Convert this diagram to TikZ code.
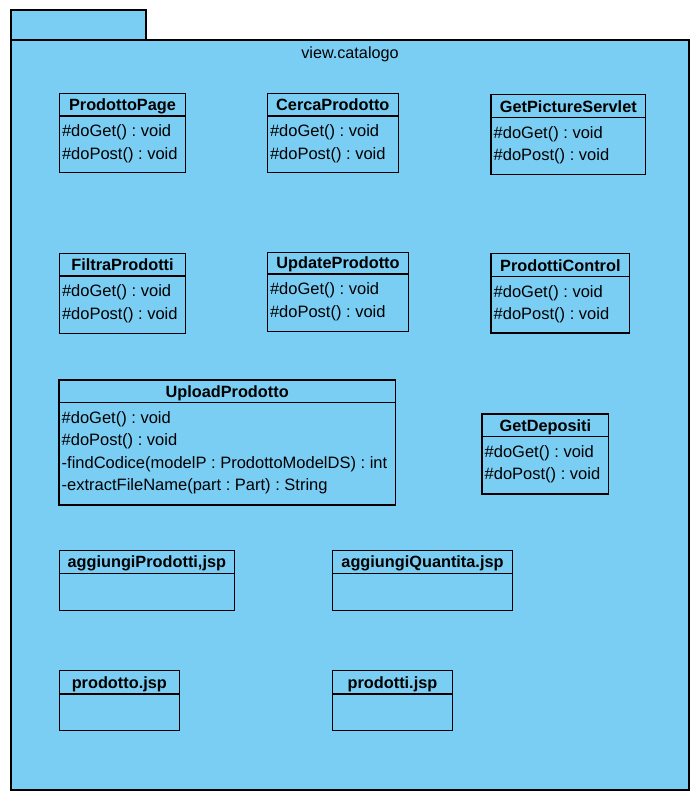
\documentclass[tikz,border=0pt]{standalone}
\usepackage{fontspec}
\setmainfont{Liberation Sans}
\frenchspacing
\definecolor{pkgblue}{RGB}{122,206,244}
\tikzset{
  pkgshape/.style={draw=black, fill=pkgblue, line width=1.1pt, inner sep=0pt, outer sep=0pt, anchor=north west},
  clsbox/.style={draw=black, fill=pkgblue, line width=1.1pt, inner sep=0pt, outer sep=0pt, anchor=north west},
  titletext/.style={inner sep=0pt, anchor=base, font=\fontsize{16.3}{19}\selectfont\bfseries},
  optext/.style={inner sep=0pt, anchor=base west, font=\fontsize{16.5}{19}\selectfont},
  pkglabel/.style={inner sep=0pt, anchor=base, font=\fontsize{16.2}{19}\selectfont},
}
% name, left, top, right, separator, bottom, title
\newcommand\umlcls[7]{%
  \node[clsbox, minimum width={(#4-#2)*1pt}, minimum height={(#5-#3)*1pt}] (#1) at (#2,#3) {};
  \node[clsbox, minimum width={(#4-#2)*1pt}, minimum height={(#6-#5)*1pt}] (#1-body) at (#2,#5) {};
  \node[titletext] (#1-title) at ({(#2+#4)/2},#5-5.5) {#7};
}
% name, left, separator, list of operations
\newcommand\umlops[4]{%
  \foreach \op [count=\i] in {#4} {
    \node[optext] (#1-op\i) at (#2+2.5,#3+20.5+22.5*\i-22.5) {\frenchspacing\op};
  }
}
\begin{document}
\begin{tikzpicture}[x=1pt,y=-1pt]
\useasboundingbox (0,0) rectangle (699,807);
% package
\node[pkgshape, minimum width=135pt, minimum height=30pt] (tab) at (11,10) {};
\node[pkgshape, minimum width=678pt, minimum height=750pt] (pkg) at (11,40) {};
\node[pkglabel] (pkgname) at (350,58.3) {view.catalogo};

% row 1
\umlcls{pp}{59.3}{93.3}{185.7}{116}{172.3}{ProdottoPage}
\umlops{pp}{59.3}{116}{{\#doGet() : void},{\#doPost() : void}}
\umlcls{cp}{267.3}{93.3}{398.3}{116}{172.3}{CercaProdotto}
\umlops{cp}{267.3}{116}{{\#doGet() : void},{\#doPost() : void}}
\umlcls{gps}{491}{94.3}{645.7}{117.7}{174.3}{GetPictureServlet}
\umlops{gps}{491}{117.7}{{\#doGet() : void},{\#doPost() : void}}

% row 2
\umlcls{fp}{59.3}{253.3}{185.7}{276}{333.3}{FiltraProdotti}
\umlops{fp}{59.3}{276}{{\#doGet() : void},{\#doPost() : void}}
\umlcls{up}{267.3}{252.3}{408.7}{274}{331.3}{UpdateProdotto}
\umlops{up}{267.3}{274}{{\#doGet() : void},{\#doPost() : void}}
\umlcls{pc}{491}{253.3}{629.7}{276.7}{333}{ProdottiControl}
\umlops{pc}{491}{276.7}{{\#doGet() : void},{\#doPost() : void}}

% row 3
\umlcls{upl}{59}{380}{395.3}{402.7}{505}{UploadProdotto}
\umlops{upl}{59}{402.7}{{\#doGet() : void},{\#doPost() : void},{-findCodice(modelP : ProdottoModelDS) : int},{-extractFileName(part : Part) : String}}
\umlcls{gd}{482}{414}{608.7}{436.7}{494}{GetDepositi}
\umlops{gd}{482}{436.7}{{\#doGet() : void},{\#doPost() : void}}

% jsp pages
\umlcls{ap}{59.3}{550.3}{234.3}{573.3}{610.3}{aggiungiProdotti,jsp}
\umlcls{aq}{332.3}{550.3}{512.7}{573.3}{610.3}{aggiungiQuantita.jsp}
\umlcls{pj}{59.3}{670.3}{179.3}{694}{730.7}{prodotto.jsp}
\umlcls{psj}{332.3}{670.3}{452.7}{694}{730.7}{prodotti.jsp}
\end{tikzpicture}
\end{document}
